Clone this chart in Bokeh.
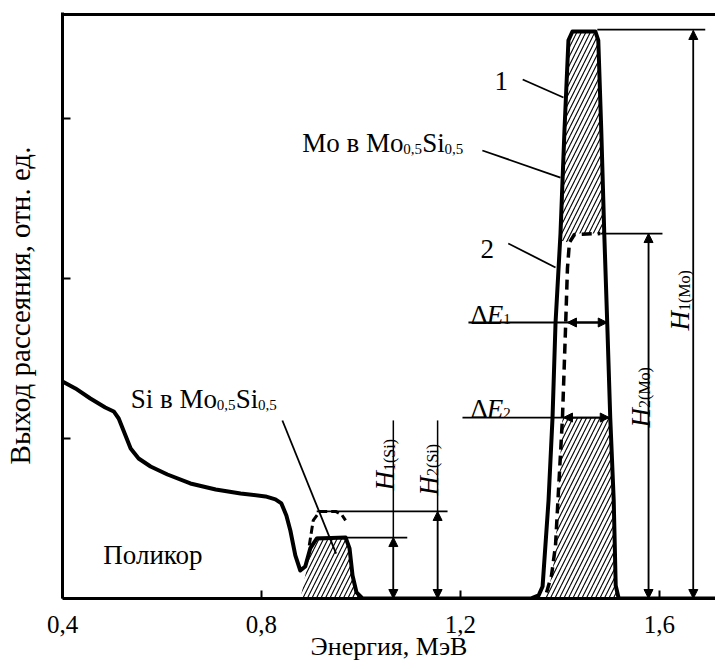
import math
from bokeh.plotting import figure
from bokeh.models import Range1d, FixedTicker, Arrow, NormalHead, Span
from bokeh.core.properties import value
from bokeh.embed import file_html
from bokeh.resources import INLINE

FONT = "Liberation Serif"

# ---- axes ----
x_ticks = [0.4, 0.8, 1.2, 1.6]
x_tick_labels = ["0,4", "0,8", "1,2", "1,6"]
y_ticks = [1, 2, 3]
x_title = "Энергия, МэВ"
y_title = "Выход рассеяния, отн. ед."

# ---- spectrum 1 (solid, Поликор + Mo0,5Si0,5) ----
spec1_x = [0.400, 0.426, 0.456, 0.486, 0.503, 0.513, 0.525, 0.537, 0.553, 0.577,
           0.611, 0.657, 0.708, 0.758, 0.808, 0.828, 0.840, 0.850, 0.858, 0.868,
           0.878, 0.888, 0.898, 0.911, 0.969, 0.977, 0.983, 0.991, 1.003, 1.341,
           1.357, 1.365, 1.377, 1.385, 1.391, 1.401, 1.409, 1.417, 1.425, 1.471,
           1.477, 1.483, 1.489, 1.495, 1.501, 1.508, 1.512, 1.518, 1.712]
spec1_y = [1.356, 1.313, 1.250, 1.194, 1.169, 1.125, 1.031, 0.938, 0.875, 0.825,
           0.775, 0.719, 0.681, 0.656, 0.638, 0.619, 0.594, 0.519, 0.425, 0.269,
           0.175, 0.200, 0.313, 0.375, 0.381, 0.313, 0.144, 0.038, 0.000, 0.000,
           0.019, 0.075, 0.613, 1.131, 1.719, 2.281, 2.925, 3.488, 3.544, 3.544,
           3.488, 2.925, 2.281, 1.719, 1.131, 0.613, 0.081, 0.000, 0.000]

# ---- spectrum 2 (dashed) ----
mo2_x = [1.373, 1.383, 1.391, 1.397, 1.405, 1.411, 1.415, 1.419, 1.429, 1.481]
mo2_y = [0.038, 0.144, 0.331, 0.675, 1.131, 1.675, 2.063, 2.225, 2.275, 2.281]
si2_x = [0.896, 0.904, 0.917, 0.949, 0.961, 0.969]
si2_y = [0.331, 0.488, 0.544, 0.544, 0.525, 0.488]

# ---- hatched areas ----
si_hatch_x = [0.878, 0.884, 0.892, 0.900, 0.911, 0.969, 0.977, 0.983, 0.991, 0.999]
si_hatch_y = [0.000, 0.081, 0.206, 0.313, 0.375, 0.375, 0.269, 0.144, 0.038, 0.000]
mo_up_hatch_x = [1.401, 1.409, 1.417, 1.425, 1.471, 1.477, 1.483, 1.489, 1.429, 1.417]
mo_up_hatch_y = [2.238, 2.925, 3.488, 3.538, 3.538, 3.488, 2.925, 2.281, 2.281, 2.225]
mo_lo_hatch_x = [1.405, 1.501, 1.508, 1.512, 1.516, 1.367, 1.377, 1.385, 1.391, 1.397]
mo_lo_hatch_y = [1.131, 1.131, 0.613, 0.081, 0.000, 0.000, 0.050, 0.175, 0.313, 0.675]

# ---- reference (height) lines ----
ref_x0 = [1.475, 1.481, 0.911, 0.911]
ref_x1 = [1.692, 1.606, 1.174, 1.093]
ref_y = [3.556, 2.281, 0.544, 0.381]

# ---- height dimension arrows: x, top tip, top of thin line ----
h_x = [1.668, 1.578, 1.065, 1.154]
h_top = [3.550, 2.281, 0.381, 0.544]
h_line_top = [3.550, 2.281, 1.113, 1.113]

# ---- width arrows dE1, dE2 ----
de_y = [1.725, 1.131]
de_line_x0 = [1.216, 1.204]
de_arrow_x0 = [1.415, 1.407]
de_arrow_x1 = [1.495, 1.499]

# ---- leader lines ----
lead_x0 = [1.325, 1.244, 1.296, 0.842]
lead_y0 = [3.244, 2.800, 2.219, 1.1125]
lead_x1 = [1.407, 1.401, 1.391, 0.950]
lead_y1 = [3.131, 2.631, 2.069, 0.281]

# ---- texts (upright, main size) ----
txt_main = ["Mo в Mo", "Si", "Si в Mo", "Si", "Поликор"]
txt_main_x = [0.882, 1.123, 0.537, 0.748, 0.482]
txt_main_y = [2.844, 2.844, 1.244, 1.244, 0.269]
txt_sub = ["0,5", "0,5", "0,5", "0,5", "1", "2"]
txt_sub_x = [1.085, 1.168, 0.710, 0.793, 1.286, 1.286]
txt_sub_y = [2.8125, 2.8125, 1.2125, 1.2125, 1.744, 1.1625]
num_txt = ["1", "2"]
num_x = [1.282, 1.254]
num_y = [3.2375, 2.1875]
delta_txt = ["Δ", "Δ"]
delta_x = [1.220, 1.220]
delta_y = [1.769, 1.1875]
e_txt = ["E", "E"]
e_x = [1.253, 1.253]
e_y = [1.769, 1.1875]

# ---- rotated H labels ----
h_lab_x = [1.642, 1.562, 1.049, 1.136]
h_lab_y = [1.675, 1.069, 0.675, 0.644]
h_sub = ["1(Mo)", "2(Mo)", "1(Si)", "2(Si)"]
h_sub_x = [1.650, 1.570, 1.057, 1.144]
h_sub_y = [1.797, 1.191, 0.797, 0.766]

p = figure(width=715, height=669,
           x_range=Range1d(0.4, 1.7126), y_range=Range1d(0, 3.6625),
           output_backend="svg", toolbar_location=None,
           min_border_left=62, min_border_right=0,
           min_border_top=12, min_border_bottom=71)
p.xgrid.visible = False
p.ygrid.visible = False
p.outline_line_color = None
p.background_fill_color = "white"
p.border_fill_color = "white"

# x axis
xa = p.xaxis[0]
xa.ticker = FixedTicker(ticks=x_ticks)
xa.major_label_overrides = {t: l for t, l in zip(x_ticks, x_tick_labels)}
xa.axis_line_width = 3
xa.axis_line_color = "black"
xa.major_tick_in = 8
xa.major_tick_out = 0
xa.major_tick_line_width = 2
xa.minor_tick_line_color = None
xa.major_label_text_font = FONT
xa.major_label_text_font_size = "25px"
xa.major_label_text_color = "black"
xa.major_label_standoff = 17
xa.axis_label = x_title
xa.axis_label_text_font = FONT
xa.axis_label_text_font_size = "26px"
xa.axis_label_text_font_style = "normal"
xa.axis_label_text_color = "black"
xa.axis_label_standoff = -4

# y axis
ya = p.yaxis[0]
ya.ticker = FixedTicker(ticks=y_ticks)
ya.major_label_overrides = {t: "" for t in y_ticks}
ya.axis_line_width = 3
ya.axis_line_color = "black"
ya.major_tick_in = 8
ya.major_tick_out = 0
ya.major_tick_line_width = 2
ya.minor_tick_line_color = None
ya.major_label_standoff = 0
ya.axis_label = y_title
ya.axis_label_text_font = FONT
ya.axis_label_text_font_size = "29px"
ya.axis_label_text_font_style = "normal"
ya.axis_label_text_color = "black"
ya.axis_label_standoff = 27

# top frame line
p.add_layout(Span(location=3.65, dimension="width", line_color="black", line_width=3))

# hatched areas
for hx, hy in [(si_hatch_x, si_hatch_y), (mo_up_hatch_x, mo_up_hatch_y), (mo_lo_hatch_x, mo_lo_hatch_y)]:
    p.patch(hx, hy, fill_alpha=0, line_color=None, hatch_pattern="/",
            hatch_color="black", hatch_weight=1.1, hatch_scale=9)

# spectra
p.line(spec1_x, spec1_y, line_color="black", line_width=4, line_join="round")
p.line(mo2_x, mo2_y, line_color="black", line_width=3.5, line_dash="10 6")
p.line(si2_x, si2_y, line_color="black", line_width=3, line_dash="8 4")

# reference lines
p.segment(x0=ref_x0, y0=ref_y, x1=ref_x1, y1=ref_y, line_color="black", line_width=1.8)

# height arrows
p.segment(x0=h_x, y0=[0] * len(h_x), x1=h_x, y1=h_line_top, line_color="black", line_width=1.5)
for hx, ht in zip(h_x, h_top):
    p.add_layout(Arrow(start=NormalHead(size=9, fill_color="black", line_color="black"),
                       end=NormalHead(size=9, fill_color="black", line_color="black"),
                       x_start=hx, y_start=0, x_end=hx, y_end=ht,
                       line_color="black", line_width=1.5))

# width arrows
p.segment(x0=de_line_x0, y0=de_y, x1=de_arrow_x1, y1=de_y, line_color="black", line_width=1.8)
for y, a0, a1 in zip(de_y, de_arrow_x0, de_arrow_x1):
    p.add_layout(Arrow(start=NormalHead(size=9, fill_color="black", line_color="black"),
                       end=NormalHead(size=9, fill_color="black", line_color="black"),
                       x_start=a0, y_start=y, x_end=a1, y_end=y,
                       line_color="black", line_width=1.8))

# leader lines
p.segment(x0=lead_x0, y0=lead_y0, x1=lead_x1, y1=lead_y1, line_color="black", line_width=1.8)

# texts
common = dict(text_font=value(FONT), text_color="black", text_baseline="alphabetic")
p.text(x=txt_main_x, y=txt_main_y, text=txt_main, text_font_size="27px", text_align="left", **common)
p.text(x=txt_sub_x, y=txt_sub_y, text=txt_sub, text_font_size="15px", text_align="left", **common)
p.text(x=num_x, y=num_y, text=num_txt, text_font_size="27px", text_align="center", **common)
p.text(x=delta_x, y=delta_y, text=delta_txt, text_font_size="27px", text_align="left", **common)
p.text(x=e_x, y=e_y, text=e_txt, text_font_size="27px", text_align="left",
       text_font_style="italic", **common)
p.text(x=h_lab_x, y=h_lab_y, text=["H"] * 4, text_font_size="27px", text_align="left",
       text_font_style="italic", angle=math.pi / 2, **common)
p.text(x=h_sub_x, y=h_sub_y, text=h_sub, text_font_size="16px", text_align="left",
       angle=math.pi / 2, **common)

open("out.html", "w").write(file_html(p, INLINE))
